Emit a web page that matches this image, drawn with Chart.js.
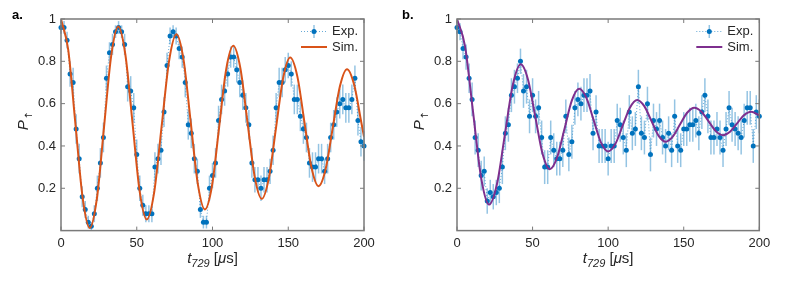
<!DOCTYPE html>
<html lang="en">
<head>
<meta charset="UTF-8" />
<title>Rabi oscillations</title>
<script src="https://cdn.jsdelivr.net/npm/chart.js"></script>
<style>
  body { margin: 0; background: #fff; }
  #wrap { position: relative; width: 793px; height: 281px; }
  canvas { position: absolute; top: 0; }
  #chartA { left: 0; }
  #chartB { left: 396px; }
</style>
</head>
<body>
<div id="wrap">
  <canvas id="chartA" width="396" height="281"></canvas>
  <canvas id="chartB" width="397" height="281"></canvas>
</div>
<script>
// measurement times (us), same for both panels
const times = [0, 2, 4, 6, 8, 10, 12, 14, 16, 18,
  20, 22, 24, 26, 28, 30, 32, 34, 36, 38,
  40, 42, 44, 46, 48, 50, 52, 54, 56, 58,
  60, 62, 64, 66, 68, 70, 72, 74, 76, 78,
  80, 82, 84, 86, 88, 90, 92, 94, 96, 98,
  100, 102, 104, 106, 108, 110, 112, 114, 116, 118,
  120, 122, 124, 126, 128, 130, 132, 134, 136, 138,
  140, 142, 144, 146, 148, 150, 152, 154, 156, 158,
  160, 162, 164, 166, 168, 170, 172, 174, 176, 178,
  180, 182, 184, 186, 188, 190, 192, 194, 196, 198,
  200];

// panel a
const expA = [0.96, 0.96, 0.90, 0.74, 0.70, 0.48, 0.34, 0.16, 0.10, 0.04,
  0.02, 0.08, 0.20, 0.32, 0.44, 0.72, 0.84, 0.88, 0.94, 0.96,
  0.94, 0.88, 0.68, 0.66, 0.58, 0.36, 0.20, 0.12, 0.08, 0.08,
  0.08, 0.30, 0.34, 0.38, 0.56, 0.78, 0.92, 0.94, 0.92, 0.86,
  0.82, 0.70, 0.50, 0.46, 0.34, 0.28, 0.10, 0.04, 0.04, 0.20,
  0.26, 0.32, 0.52, 0.62, 0.66, 0.74, 0.82, 0.82, 0.76, 0.70,
  0.64, 0.58, 0.50, 0.32, 0.24, 0.24, 0.20, 0.24, 0.24, 0.28,
  0.38, 0.58, 0.70, 0.70, 0.76, 0.78, 0.74, 0.62, 0.62, 0.54,
  0.48, 0.44, 0.32, 0.30, 0.30, 0.34, 0.34, 0.28, 0.34, 0.44,
  0.50, 0.56, 0.60, 0.62, 0.58, 0.58, 0.62, 0.72, 0.52, 0.42,
  0.40];
const errA = [0.03, 0.03, 0.04, 0.06, 0.07, 0.07, 0.07, 0.05, 0.04, 0.03,
  0.02, 0.04, 0.06, 0.07, 0.07, 0.06, 0.05, 0.05, 0.03, 0.03,
  0.03, 0.05, 0.07, 0.07, 0.07, 0.07, 0.06, 0.05, 0.04, 0.04,
  0.04, 0.07, 0.07, 0.07, 0.07, 0.06, 0.04, 0.03, 0.04, 0.05,
  0.05, 0.07, 0.07, 0.07, 0.07, 0.06, 0.04, 0.03, 0.03, 0.06,
  0.06, 0.07, 0.07, 0.07, 0.07, 0.06, 0.05, 0.05, 0.06, 0.07,
  0.07, 0.07, 0.07, 0.07, 0.06, 0.06, 0.06, 0.06, 0.06, 0.06,
  0.07, 0.07, 0.07, 0.07, 0.06, 0.06, 0.06, 0.07, 0.07, 0.07,
  0.07, 0.07, 0.07, 0.07, 0.07, 0.07, 0.07, 0.06, 0.07, 0.07,
  0.07, 0.07, 0.07, 0.07, 0.07, 0.07, 0.07, 0.06, 0.07, 0.07,
  0.07];
const simTA = [0, 4.75, 9.5, 14.25, 19.0, 23.7, 28.4, 33.1, 37.8, 42.5, 47.2, 51.9,
  56.6, 61.5, 66.4, 71.3, 76.2, 80.9, 85.6, 90.3, 95.0, 99.7, 104.35, 109.0,
  113.7, 118.4, 123.1, 127.8, 132.5, 137.2, 141.9, 146.6, 151.3, 156.0, 160.65, 165.3,
  170.0, 174.7, 179.4, 184.1, 188.8, 193.5, 198.2, 200];
const simA = [1.000, 0.855, 0.506, 0.157, 0.012, 0.152, 0.489, 0.825, 0.965, 0.831, 0.509, 0.187,
  0.053, 0.181, 0.491, 0.800, 0.928, 0.807, 0.514, 0.221, 0.100, 0.213, 0.487, 0.761,
  0.874, 0.768, 0.512, 0.256, 0.150, 0.248, 0.484, 0.720, 0.818, 0.729, 0.514, 0.299,
  0.210, 0.291, 0.487, 0.682, 0.763, 0.689, 0.512, 0.444];

// panel b
const expB = [0.96, 0.94, 0.86, 0.82, 0.72, 0.62, 0.44, 0.38, 0.26, 0.28,
  0.14, 0.18, 0.16, 0.18, 0.20, 0.30, 0.46, 0.50, 0.64, 0.68,
  0.72, 0.80, 0.66, 0.68, 0.54, 0.64, 0.54, 0.58, 0.44, 0.30,
  0.30, 0.44, 0.38, 0.34, 0.34, 0.38, 0.54, 0.36, 0.42, 0.58,
  0.62, 0.60, 0.64, 0.64, 0.66, 0.46, 0.56, 0.40, 0.40, 0.40,
  0.34, 0.40, 0.40, 0.52, 0.50, 0.44, 0.38, 0.56, 0.46, 0.48,
  0.68, 0.46, 0.44, 0.60, 0.36, 0.52, 0.48, 0.52, 0.44, 0.40,
  0.46, 0.38, 0.54, 0.40, 0.38, 0.48, 0.48, 0.50, 0.50, 0.52,
  0.46, 0.56, 0.64, 0.54, 0.44, 0.44, 0.48, 0.44, 0.38, 0.48,
  0.58, 0.50, 0.48, 0.46, 0.44, 0.52, 0.58, 0.58, 0.40, 0.56,
  0.54];
const errB = [0.03, 0.04, 0.05, 0.06, 0.07, 0.08, 0.08, 0.08, 0.07, 0.07,
  0.06, 0.06, 0.06, 0.06, 0.07, 0.08, 0.08, 0.08, 0.08, 0.08,
  0.07, 0.06, 0.08, 0.08, 0.08, 0.08, 0.08, 0.08, 0.08, 0.08,
  0.08, 0.08, 0.08, 0.08, 0.08, 0.08, 0.08, 0.08, 0.08, 0.08,
  0.08, 0.08, 0.08, 0.08, 0.08, 0.08, 0.08, 0.08, 0.08, 0.08,
  0.08, 0.08, 0.08, 0.08, 0.08, 0.08, 0.08, 0.08, 0.08, 0.08,
  0.08, 0.08, 0.08, 0.08, 0.08, 0.08, 0.08, 0.08, 0.08, 0.08,
  0.08, 0.08, 0.08, 0.08, 0.08, 0.08, 0.08, 0.08, 0.08, 0.08,
  0.08, 0.08, 0.08, 0.08, 0.08, 0.08, 0.08, 0.08, 0.08, 0.08,
  0.08, 0.08, 0.08, 0.08, 0.08, 0.08, 0.08, 0.08, 0.08, 0.08,
  0.08];
const simTB = [0, 5.3, 10.6, 15.9, 21.2, 26.45, 31.7, 36.95, 42.2, 47.0, 51.8, 56.6,
  61.4, 66.25, 71.1, 75.95, 80.8, 85.6, 90.4, 95.2, 100.0, 104.8, 109.6, 114.4,
  119.2, 123.9, 128.6, 133.3, 138.0, 142.75, 147.5, 152.25, 157.0, 161.75, 166.5, 171.25,
  176.0, 180.65, 185.3, 189.95, 194.6, 200];
const simB = [1.000, 0.872, 0.562, 0.252, 0.123, 0.220, 0.455, 0.689, 0.786, 0.713, 0.538, 0.363,
  0.290, 0.346, 0.480, 0.614, 0.670, 0.627, 0.522, 0.417, 0.374, 0.410, 0.496, 0.581,
  0.617, 0.588, 0.519, 0.449, 0.420, 0.444, 0.501, 0.557, 0.581, 0.562, 0.516, 0.470,
  0.451, 0.467, 0.507, 0.546, 0.562, 0.545];

const xTicks = [0, 50, 100, 150, 200];
const yTicks = [0.2, 0.4, 0.6, 0.8, 1];

const FONT = 'Arial, "Liberation Sans", sans-serif';
const AXIS = '#7a7a7a';
const TEXT = '#262626';
const BLUE = '#0072BD';
const ERRBAR = 'rgba(0,114,189,0.42)';
const DOTLINE = 'rgba(0,114,189,0.6)';

// error bars, box, inward ticks, axis titles, legend
const decor = {
  id: 'decor',
  beforeDatasetsDraw(chart, args, o) {
    const { ctx, scales: { x, y } } = chart;
    ctx.save();
    ctx.strokeStyle = ERRBAR;
    ctx.lineWidth = 1.5;
    o.vals.forEach((v, i) => {
      const px = x.getPixelForValue(times[i]);
      ctx.beginPath();
      ctx.moveTo(px, y.getPixelForValue(v - o.errs[i]));
      ctx.lineTo(px, y.getPixelForValue(v + o.errs[i]));
      ctx.stroke();
    });
    ctx.restore();
  },
  afterDraw(chart, args, o) {
    const { ctx, chartArea: a, scales: { x, y } } = chart;
    ctx.save();
    ctx.strokeStyle = AXIS;
    ctx.lineWidth = 1.5;
    ctx.strokeRect(a.left, a.top, a.right - a.left, a.bottom - a.top);
    const tl = 4;
    ctx.lineWidth = 1;
    ctx.beginPath();
    xTicks.forEach(t => {
      const px = x.getPixelForValue(t);
      ctx.moveTo(px, a.bottom); ctx.lineTo(px, a.bottom - tl);
      ctx.moveTo(px, a.top); ctx.lineTo(px, a.top + tl);
    });
    yTicks.forEach(t => {
      const py = y.getPixelForValue(t);
      ctx.moveTo(a.left, py); ctx.lineTo(a.left + tl, py);
      ctx.moveTo(a.right, py); ctx.lineTo(a.right - tl, py);
    });
    ctx.stroke();

    // panel letter
    ctx.fillStyle = '#000';
    ctx.font = 'bold 13px ' + FONT;
    ctx.textBaseline = 'alphabetic';
    ctx.textAlign = 'left';
    ctx.fillText(o.letter, o.letterX, 18.5);

    // x title: t_729 [mu s]
    ctx.fillStyle = TEXT;
    const parts = [
      ['t', 'italic 15px ' + FONT, 0],
      ['729', 'italic 11px ' + FONT, 4],
      [' [', '15px ' + FONT, 0],
      ['\u03bc', 'italic 15px ' + FONT, 0],
      ['s]', '15px ' + FONT, 0]
    ];
    let w = 0;
    parts.forEach(p => { ctx.font = p[1]; w += ctx.measureText(p[0]).width; });
    let cx = (a.left + a.right) / 2 - w / 2;
    parts.forEach(p => {
      ctx.font = p[1];
      ctx.fillText(p[0], cx, 263 + p[2]);
      cx += ctx.measureText(p[0]).width;
    });

    // y title: P_up, rotated
    ctx.save();
    ctx.translate(28, 121);
    ctx.rotate(-Math.PI / 2);
    ctx.font = 'italic 15px ' + FONT;
    const wp = ctx.measureText('P').width;
    ctx.font = '10px "DejaVu Sans", ' + FONT;
    const wa = ctx.measureText('\u2191').width;
    let lx = -(wp + wa) / 2;
    ctx.font = 'italic 15px ' + FONT;
    ctx.fillText('P', lx, 0);
    ctx.font = '10px "DejaVu Sans", ' + FONT;
    ctx.fillText('\u2191', lx + wp + 0.5, 4);
    ctx.restore();

    // legend
    const l1 = a.right - 63, l2 = a.right - 37, tx = a.right - 32;
    const y1 = a.top + 12.5, y2 = a.top + 28;
    ctx.strokeStyle = DOTLINE;
    ctx.lineWidth = 1;
    ctx.setLineDash([1, 2]);
    ctx.beginPath(); ctx.moveTo(l1, y1); ctx.lineTo(l2, y1); ctx.stroke();
    ctx.setLineDash([]);
    const lm = (l1 + l2) / 2;
    ctx.strokeStyle = ERRBAR;
    ctx.lineWidth = 1.5;
    ctx.beginPath(); ctx.moveTo(lm, y1 - 6.5); ctx.lineTo(lm, y1 + 6.5); ctx.stroke();
    ctx.fillStyle = BLUE;
    ctx.beginPath(); ctx.arc(lm, y1, 2.5, 0, Math.PI * 2); ctx.fill();
    ctx.strokeStyle = o.simColor;
    ctx.lineWidth = 2;
    ctx.beginPath(); ctx.moveTo(l1, y2); ctx.lineTo(l2, y2); ctx.stroke();
    ctx.fillStyle = TEXT;
    ctx.font = '13px ' + FONT;
    ctx.textBaseline = 'middle';
    ctx.fillText('Exp.', tx, y1);
    ctx.fillText('Sim.', tx, y2);
    ctx.restore();
  }
};

function makePanel(id, letter, letterX, exp, errs, simT, simV, simColor, padRight) {
  new Chart(document.getElementById(id), {
    type: 'line',
    data: {
      datasets: [{
        label: 'Sim.',
        data: simT.map((t, i) => ({ x: t, y: simV[i] })),
        borderColor: simColor,
        borderWidth: 2,
        pointRadius: 0,
        cubicInterpolationMode: 'monotone',
        order: 0
      }, {
        label: 'Exp.',
        data: times.map((t, i) => ({ x: t, y: exp[i] })),
        borderColor: DOTLINE,
        borderWidth: 1,
        borderDash: [1, 2],
        pointRadius: 2.5,
        pointBackgroundColor: BLUE,
        pointBorderWidth: 0,
        clip: false,
        order: 1
      }]
    },
    options: {
      responsive: false,
      animation: false,
      events: [],
      layout: { padding: { top: 19, right: padRight, left: 0, bottom: 0 } },
      plugins: {
        legend: { display: false },
        tooltip: { enabled: false },
        decor: { letter, letterX, vals: exp, errs, simColor }
      },
      scales: {
        x: {
          type: 'linear', min: 0, max: 200,
          grid: { display: false, drawTicks: false },
          border: { display: false },
          afterBuildTicks: s => { s.ticks = xTicks.map(v => ({ value: v })); },
          afterFit: s => { s.height = 50.4; },
          ticks: { padding: 5, color: TEXT, font: { family: FONT, size: 13 }, maxRotation: 0 }
        },
        y: {
          type: 'linear', min: 0, max: 1,
          grid: { display: false, drawTicks: false },
          border: { display: false },
          afterBuildTicks: s => { s.ticks = yTicks.map(v => ({ value: v })); },
          afterFit: s => { s.width = 61; },
          ticks: {
            padding: 5, color: TEXT, font: { family: FONT, size: 13 },
            callback: v => String(Math.round(v * 10) / 10)
          }
        }
      }
    },
    plugins: [decor]
  });
}

makePanel('chartA', 'a.', 12, expA, errA, simTA, simA, '#D95319', 32);
makePanel('chartB', 'b.', 6, expB, errB, simTB, simB, '#7E2F8E', 33.7);
</script>
</body>
</html>
